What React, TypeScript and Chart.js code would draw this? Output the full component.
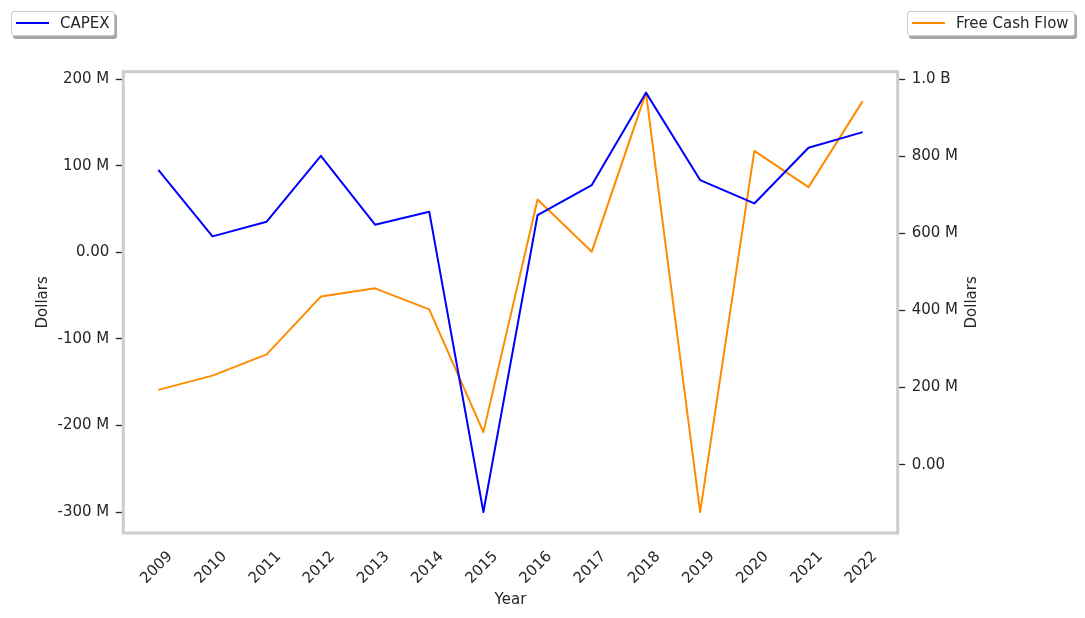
import { useEffect, useRef } from "react";
import { Chart, registerables, type ChartConfiguration, type Plugin } from "chart.js";

Chart.register(...registerables);

// values in millions of dollars
const years = [2009, 2010, 2011, 2012, 2013, 2014, 2015, 2016, 2017, 2018, 2019, 2020, 2021, 2022];
const capex = [95.4, 18.5, 35.4, 111.5, 32, 47, -300, 43.1, 77.7, 184.5, 83.5, 56.5, 120.8, 138.9];
const freeCashFlow = [194, 231, 286, 436, 457.5, 403, 84.5, 688, 552.6, 965, -122.8, 814, 720, 943];

const leftTickValues = [-300, -200, -100, 0, 100, 200];
const leftTickLabels = ["-300 M", "-200 M", "-100 M", "0.00", "100 M", "200 M"];
const rightTickValues = [0, 200, 400, 600, 800, 1000];
const rightTickLabels = ["0.00", "200 M", "400 M", "600 M", "800 M", "1.0 B"];

const TEXT = "#262626";
const FONT = "'DejaVu Sans', sans-serif";

// spine box + right axis title (matplotlib reads it bottom-to-top)
const framePlugin: Plugin<"line"> = {
  id: "frame",
  afterDatasetsDraw(chart) {
    const { ctx, chartArea: a } = chart;
    ctx.save();
    ctx.strokeStyle = "#cccccc";
    ctx.lineWidth = 3;
    ctx.strokeRect(a.left, a.top, a.right - a.left, a.bottom - a.top);

    ctx.translate(972, (a.top + a.bottom) / 2);
    ctx.rotate(-Math.PI / 2);
    ctx.fillStyle = TEXT;
    ctx.font = `15px ${FONT}`;
    ctx.textAlign = "center";
    ctx.textBaseline = "middle";
    ctx.fillText("Dollars", 0, 0);
    ctx.restore();
  },
};

function LegendBox(props: { left: number; width: number; color: string; label: string }) {
  return (
    <div
      style={{
        position: "absolute",
        left: props.left,
        top: 11,
        width: props.width,
        height: 25,
        border: "1px solid #cccccc",
        borderRadius: 3,
        background: "#ffffff",
        boxShadow: "2px 3px 0 rgba(0,0,0,0.35)",
        fontFamily: FONT,
        fontSize: 15,
        color: TEXT,
        boxSizing: "border-box",
      }}
    >
      <div
        style={{
          position: "absolute",
          left: 4,
          top: 10,
          width: 33,
          height: 2,
          background: props.color,
        }}
      />
      <div style={{ position: "absolute", left: 48, top: 2, whiteSpace: "nowrap" }}>{props.label}</div>
    </div>
  );
}

export default function App() {
  const canvasRef = useRef<HTMLCanvasElement | null>(null);

  useEffect(() => {
    const canvas = canvasRef.current;
    if (!canvas) return;

    const config: ChartConfiguration<"line"> = {
      type: "line",
      data: {
        datasets: [
          {
            label: "CAPEX",
            data: years.map((yr, i) => ({ x: yr, y: capex[i] })),
            borderColor: "#0000ff",
            borderWidth: 2,
            pointRadius: 0,
            borderJoinStyle: "round",
            yAxisID: "y",
          },
          {
            label: "Free Cash Flow",
            data: years.map((yr, i) => ({ x: yr, y: freeCashFlow[i] })),
            borderColor: "#ff8c00",
            borderWidth: 2,
            pointRadius: 0,
            borderJoinStyle: "round",
            yAxisID: "y1",
          },
        ],
      },
      options: {
        responsive: true,
        maintainAspectRatio: false,
        animation: false,
        layout: { padding: { top: 71.7, left: 0, right: 0, bottom: 0 } },
        plugins: {
          legend: { display: false },
          tooltip: { enabled: false },
        },
        scales: {
          x: {
            type: "linear",
            min: 2008.354,
            max: 2022.646,
            afterBuildTicks: (scale) => {
              scale.ticks = years.map((v) => ({ value: v }));
            },
            afterFit: (scale) => {
              scale.height = 85;
            },
            grid: { display: false },
            border: { display: false },
            ticks: {
              autoSkip: false,
              maxRotation: 45,
              minRotation: 45,
              padding: 7,
              labelOffset: 12,
              color: TEXT,
              font: { family: FONT, size: 15 },
              callback: (value) => String(value),
            },
            title: {
              display: true,
              text: "Year",
              color: TEXT,
              font: { family: FONT, size: 15 },
              padding: { top: 0, bottom: 9 },
            },
          },
          y: {
            type: "linear",
            position: "left",
            min: -324.2,
            max: 208.7,
            afterBuildTicks: (scale) => {
              scale.ticks = leftTickValues.map((v) => ({ value: v }));
            },
            afterFit: (scale) => {
              scale.width = 123.3;
            },
            grid: {
              drawOnChartArea: false,
              drawTicks: true,
              tickLength: 7.5,
              tickColor: TEXT,
              tickWidth: 1.3,
            },
            border: { display: false },
            ticks: {
              padding: 6.5,
              color: TEXT,
              font: { family: FONT, size: 15 },
              callback: (value) => leftTickLabels[leftTickValues.indexOf(Number(value))] ?? "",
            },
            title: {
              display: true,
              text: "Dollars",
              color: TEXT,
              font: { family: FONT, size: 15 },
              padding: { top: 34, bottom: 0 },
            },
          },
          y1: {
            type: "linear",
            position: "right",
            min: -177.2,
            max: 1019.4,
            afterBuildTicks: (scale) => {
              scale.ticks = rightTickValues.map((v) => ({ value: v }));
            },
            afterFit: (scale) => {
              scale.width = 187.3;
            },
            grid: {
              drawOnChartArea: false,
              drawTicks: true,
              tickLength: 7.5,
              tickColor: TEXT,
              tickWidth: 1.3,
            },
            border: { display: false },
            ticks: {
              padding: 6.5,
              color: TEXT,
              font: { family: FONT, size: 15 },
              callback: (value) => rightTickLabels[rightTickValues.indexOf(Number(value))] ?? "",
            },
            title: { display: false },
          },
        },
      },
      plugins: [framePlugin],
    };

    const chart = new Chart(canvas, config);
    return () => {
      chart.destroy();
    };
  }, []);

  return (
    <div style={{ position: "fixed", left: 0, top: 0, width: 1085, height: 618, background: "#ffffff" }}>
      <div style={{ position: "absolute", left: 0, top: 0, width: 1085, height: 618 }}>
        <canvas ref={canvasRef} />
      </div>
      <LegendBox left={11} width={104} color="#0000ff" label="CAPEX" />
      <LegendBox left={907} width={168} color="#ff8c00" label="Free Cash Flow" />
    </div>
  );
}
